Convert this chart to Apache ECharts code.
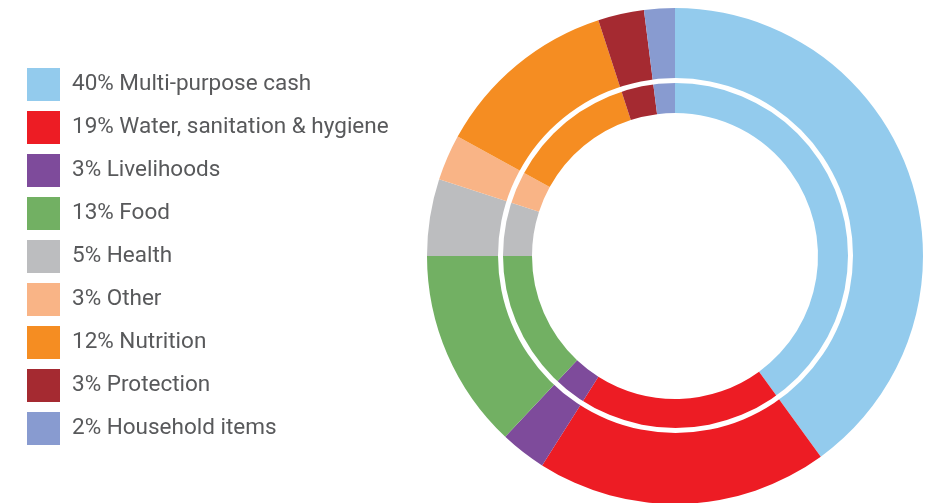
<!DOCTYPE html>
<html>
<head>
<meta charset="utf-8">
<script src="https://cdn.jsdelivr.net/npm/echarts@6/dist/echarts.min.js"></script>
<style>
  html, body { margin: 0; padding: 0; background: #ffffff; }
  #chart { width: 937px; height: 503px; }
</style>
</head>
<body>
<div id="chart"></div>
<script>
// Share of funding by sector (percent)
const sectors = [
  'Multi-purpose cash',
  'Water, sanitation & hygiene',
  'Livelihoods',
  'Food',
  'Health',
  'Other',
  'Nutrition',
  'Protection',
  'Household items'
];
const shares = [40, 19, 3, 13, 5, 3, 12, 3, 2];
const sectorColors = [
  '#93cbed', '#ed1c24', '#7e4b9b', '#72b063', '#bcbdbf',
  '#f9b486', '#f58d22', '#a52a31', '#889bd0'
];

const shareByName = {};
sectors.forEach((s, i) => { shareByName[s] = shares[i]; });

const chart = echarts.init(document.getElementById('chart'), null, { renderer: 'canvas' });

chart.setOption({
  animation: false,
  backgroundColor: '#ffffff',
  color: sectorColors,
  legend: {
    orient: 'vertical',
    left: 27,
    top: 68,
    padding: 0,
    itemWidth: 33,
    itemHeight: 33,
    itemGap: 10,
    icon: 'rect',
    selectedMode: false,
    data: sectors,
    formatter: name => shareByName[name] + '% ' + name,
    textStyle: {
      color: '#58595b',
      fontFamily: 'Roboto',
      fontSize: 22.5,
      padding: [0, 0, 0, 7]
    }
  },
  series: [
    {
      type: 'pie',
      center: [675, 256],
      radius: [143, 248],
      startAngle: 90,
      clockwise: true,
      silent: true,
      label: { show: false },
      labelLine: { show: false },
      itemStyle: { borderWidth: 0 },
      data: sectors.map((s, i) => ({ name: s, value: shares[i] }))
    },
    {
      // thin white separator ring between the outer and inner bands
      type: 'pie',
      center: [675.5, 255.5],
      radius: [172.5, 177.5],
      silent: true,
      z: 5,
      label: { show: false },
      labelLine: { show: false },
      itemStyle: { color: '#ffffff', borderWidth: 0 },
      data: [{ name: 'separator', value: 1 }]
    }
  ]
});
</script>
</body>
</html>
